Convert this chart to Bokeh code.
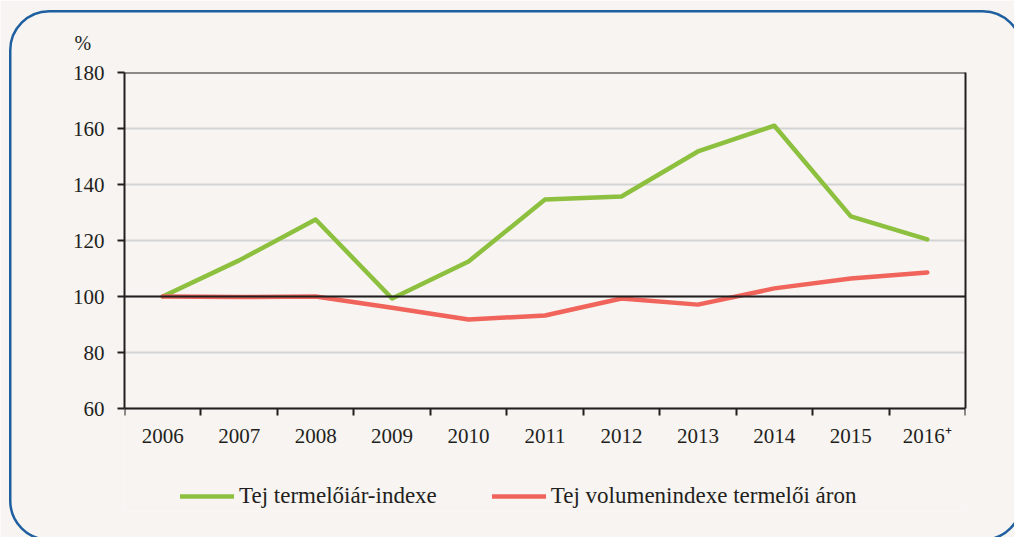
from bokeh.plotting import figure
from bokeh.models import (Range1d, FixedTicker, Span, Legend, LegendItem, LinearAxis,
                          InlineStyleSheet)
from bokeh.embed import file_html
from bokeh.resources import INLINE

years = ["2006", "2007", "2008", "2009", "2010", "2011", "2012", "2013", "2014", "2015", "2016\u207a"]
price_index = [100, 112.9, 127.5, 99.3, 112.5, 134.6, 135.7, 151.8, 161.0, 128.6, 120.4]
volume_index = [100, 99.8, 100.0, 96.0, 91.8, 93.2, 99.3, 97.1, 102.9, 106.4, 108.6]
y_ticks = [60, 80, 100, 120, 140, 160, 180]
series_names = ["Tej termelőiár-indexe", "Tej volumenindexe termelői áron"]

BG = "#F7F4F1"
GREEN = "#8DC03F"
RED = "#F0645B"
FONT = "Liberation Serif"
TXT = "#231F20"

# layout (pixels)
W, H = 1014, 537
FR_LEFT, FR_RIGHT, FR_TOP = 124, 965, 72
FR_BOTTOM = H - 26               # frame continues below the axis so the legend fits in it
Y_MIN, Y_MAX = y_ticks[0], y_ticks[-1]
AXIS_PX = 408                    # screen y of the value axis bottom (60)
px_per_unit = (AXIS_PX - FR_TOP) / (Y_MAX - Y_MIN)
y_start = Y_MAX - (FR_BOTTOM - FR_TOP) / px_per_unit
label_axis_y = Y_MAX - (437 - FR_TOP) / px_per_unit

xs = [i + 0.5 for i in range(len(years))]
bounds_x = list(range(len(years) + 1))

svg = ("data:image/svg+xml;utf8,<svg xmlns='http://www.w3.org/2000/svg' width='1014' height='537'>"
       "<rect x='10.25' y='11.25' width='1011.5' height='528.5' rx='39' ry='39' fill='none' "
       "stroke='%231F5FA0' stroke-width='2.5'/></svg>")
border_css = InlineStyleSheet(css=f"""
:host::after {{
  content: ""; position: absolute; left: 0; top: 0; width: {W}px; height: {H}px;
  pointer-events: none; background: url("{svg}") no-repeat;
}}
""")

p = figure(width=W, height=H, output_backend="svg", toolbar_location=None,
           x_range=Range1d(0, len(years)), y_range=Range1d(y_start, Y_MAX),
           min_border_left=FR_LEFT, min_border_right=W - FR_RIGHT, min_border_top=FR_TOP,
           min_border_bottom=H - FR_BOTTOM, stylesheets=[border_css])
p.background_fill_color = BG
p.border_fill_color = BG
p.outline_line_color = None

p.title.text = "%"
p.title.align = "left"
p.title.offset = -50
p.title.standoff = 37
p.title.text_font = FONT
p.title.text_font_size = "20px"
p.title.text_font_style = "normal"
p.title.text_color = TXT

# x axis line with ticks at category boundaries
xa = p.xaxis[0]
xa.fixed_location = Y_MIN
xa.ticker = FixedTicker(ticks=[], minor_ticks=bounds_x)
xa.major_tick_out = 0
xa.major_tick_in = 0
xa.minor_tick_out = 7
xa.minor_tick_in = 0
xa.minor_tick_line_color = TXT
xa.minor_tick_line_width = 2
xa.major_label_standoff = 0
xa.axis_line_color = TXT
xa.axis_line_width = 2

# category labels at category centres
xl = LinearAxis(fixed_location=label_axis_y, ticker=FixedTicker(ticks=xs, minor_ticks=[]),
                major_label_overrides={x: y for x, y in zip(xs, years)},
                axis_line_color=None, major_tick_line_color=None, minor_tick_line_color=None,
                major_tick_out=0, major_tick_in=0, major_label_standoff=-14,
                major_label_text_font=FONT, major_label_text_font_size="21px",
                major_label_text_color=TXT)
p.add_layout(xl, "below")

ya = p.yaxis[0]
ya.bounds = (Y_MIN, Y_MAX)
ya.ticker = FixedTicker(ticks=y_ticks)
ya.minor_tick_line_color = None
ya.major_tick_out = 7
ya.major_tick_in = 0
ya.major_label_standoff = 13
ya.axis_line_color = TXT
ya.axis_line_width = 2
ya.major_tick_line_color = TXT
ya.major_tick_line_width = 2
ya.major_label_text_font = FONT
ya.major_label_text_font_size = "21px"
ya.major_label_text_color = TXT

yr = LinearAxis(bounds=(Y_MIN, Y_MAX), ticker=FixedTicker(ticks=[], minor_ticks=[]),
                axis_line_color=TXT, axis_line_width=2, major_tick_line_color=None,
                minor_tick_line_color=None, major_tick_out=0, major_label_standoff=0)
p.add_layout(yr, "right")

p.xgrid.grid_line_color = None
p.ygrid.ticker = FixedTicker(ticks=y_ticks)
p.ygrid.grid_line_color = "#D3D3D3"
p.ygrid.grid_line_width = 2

p.add_layout(Span(location=100, dimension="width", line_color=TXT, line_width=2))
p.add_layout(Span(location=Y_MAX, dimension="width", line_color=TXT, line_width=2))

g = p.line(xs, price_index, line_color=GREEN, line_width=4.5, line_cap="round", line_join="round")
r = p.line(xs, volume_index, line_color=RED, line_width=4.5, line_cap="round", line_join="round")

legend = Legend(items=[LegendItem(label=series_names[0], renderers=[g]),
                       LegendItem(label=series_names[1], renderers=[r])],
                orientation="horizontal", location=(56, FR_BOTTOM - 509),
                glyph_width=54, glyph_height=20, label_standoff=5, spacing=55,
                padding=0, margin=0, border_line_color=None, background_fill_alpha=0,
                label_text_font=FONT, label_text_font_size="23px", label_text_color=TXT)
p.add_layout(legend, "center")

open("out.html", "w").write(file_html(p, INLINE))
